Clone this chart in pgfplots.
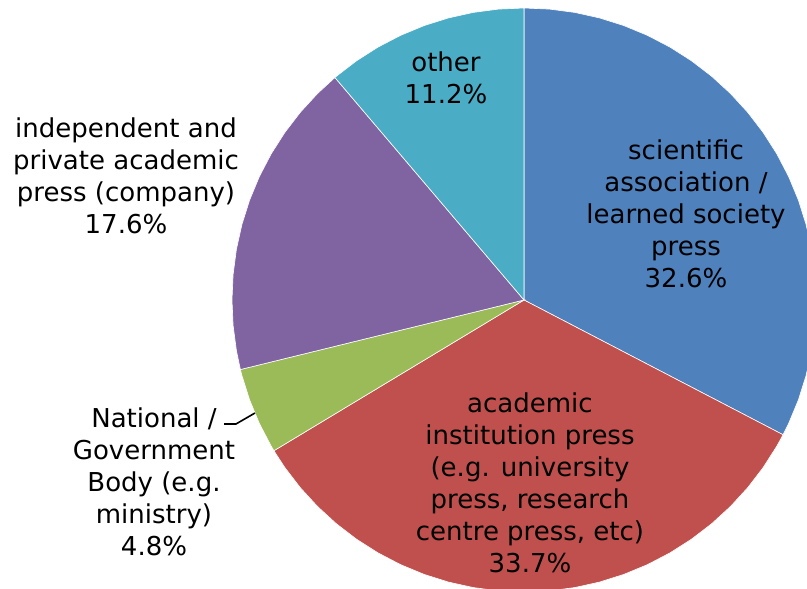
\documentclass[border=0pt]{standalone}
\usepackage{fontspec}
\setmainfont{DejaVu Sans}
\usepackage{pgfplots}
\pgfplotsset{compat=1.18}
\definecolor{cBlue}{HTML}{4F81BD}
\definecolor{cRed}{HTML}{C0504D}
\definecolor{cGreen}{HTML}{9BBB59}
\definecolor{cPurple}{HTML}{8064A2}
\definecolor{cTeal}{HTML}{4BACC6}
\begin{document}
\begin{tikzpicture}
\begin{axis}[
  name=pie,
  x=1pt, y=1pt,
  xmin=-524, xmax=283, ymin=-289, ymax=300,
  hide axis, clip=true,
  data cs=polar,
  every axis plot/.append style={draw=white, line width=0.6pt},
]
% scientific association / learned society press 32.6%
\addplot[fill=cBlue] coordinates {(0,0) (90,292) (85,292) (80,292) (75,292) (70,292) (65,292) (60,292) (55,292) (50,292) (45,292) (40,292) (35,292) (30,292) (25,292) (20,292) (15,292) (10,292) (5,292) (0,292) (-5,292) (-10,292) (-15,292) (-20,292) (-25,292) (-27.48,292)} -- cycle;
% academic institution press 33.7%
\addplot[fill=cRed] coordinates {(0,0) (-27.48,292) (-30,292) (-35,292) (-40,292) (-45,292) (-50,292) (-55,292) (-60,292) (-65,292) (-70,292) (-75,292) (-80,292) (-85,292) (-90,292) (-95,292) (-100,292) (-105,292) (-110,292) (-115,292) (-120,292) (-125,292) (-130,292) (-135,292) (-140,292) (-145,292) (-148.92,292)} -- cycle;
% National / Government Body 4.8%
\addplot[fill=cGreen] coordinates {(0,0) (-148.92,292) (-150,292) (-155,292) (-160,292) (-165,292) (-166.22,292)} -- cycle;
% independent and private academic press 17.6%
\addplot[fill=cPurple] coordinates {(0,0) (-166.22,292) (-170,292) (-175,292) (-180,292) (-185,292) (-190,292) (-195,292) (-200,292) (-205,292) (-210,292) (-215,292) (-220,292) (-225,292) (-229.64,292)} -- cycle;
% other 11.2%
\addplot[fill=cTeal] coordinates {(0,0) (-229.64,292) (-230,292) (-235,292) (-240,292) (-245,292) (-250,292) (-255,292) (-260,292) (-265,292) (-270,292)} -- cycle;

\begin{scope}[every node/.style={align=center, font=\fontsize{26}{32}\selectfont, inner sep=0pt}]
\node at (axis cs:162,86) {scientific\\association /\\learned society\\press\\32.6\%};
\node at (axis cs:6,-183) {academic\\institution press\\(e.g. university\\press, research\\centre press, etc)\\33.7\%};
\node at (axis cs:-370,-182) {National /\\Government\\Body (e.g.\\ministry)\\4.8\%};
\node at (axis cs:-398,124) {independent and\\private academic\\press (company)\\17.6\%};
\node at (axis cs:-78,222) {other\\11.2\%};
\end{scope}
\draw[black, line width=1.6pt] (axis cs:-300,-124) -- (axis cs:-288,-124) -- (axis cs:-269,-113);
\end{axis}
\pgfresetboundingbox
\path (pie.south west) rectangle (pie.north east);
\end{tikzpicture}
\end{document}
